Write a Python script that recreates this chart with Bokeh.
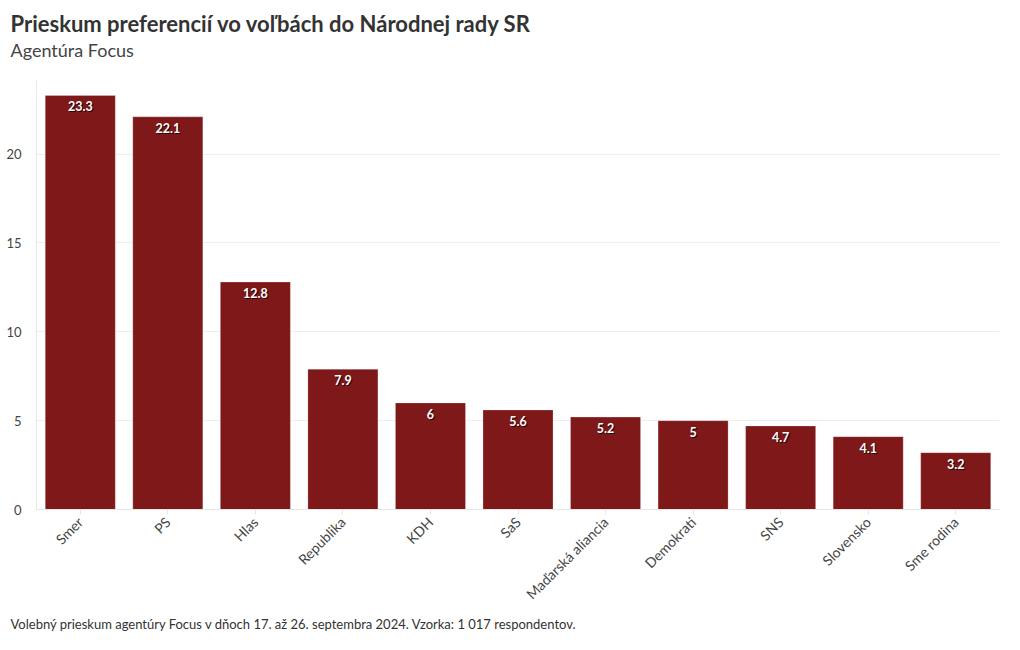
import math
from bokeh.plotting import figure
from bokeh.models import ColumnDataSource, Title, Range1d, FixedTicker
from bokeh.core.properties import value
from bokeh.embed import file_html
from bokeh.resources import INLINE

parties = ["Smer", "PS", "Hlas", "Republika", "KDH", "SaS", "Maďarská aliancia",
           "Demokrati", "SNS", "Slovensko", "Sme rodina"]
support = [23.3, 22.1, 12.8, 7.9, 6, 5.6, 5.2, 5, 4.7, 4.1, 3.2]
labels = ["23.3", "22.1", "12.8", "7.9", "6", "5.6", "5.2", "5", "4.7", "4.1", "3.2"]
y_ticks = [0, 5, 10, 15, 20]

title_text = "Prieskum preferencií vo voľbách do Národnej rady SR"
subtitle_text = "Agentúra Focus"
footer_text = "Volebný prieskum agentúry Focus v dňoch 17. až 26. septembra 2024. Vzorka: 1 017 respondentov."

FONT = "Lato"

src = ColumnDataSource(dict(x=parties, y=support, lab=labels))

p = figure(x_range=parties, y_range=Range1d(0, 24.2), width=1004, height=634,
           output_backend="svg", toolbar_location=None,
           min_border_left=36, min_border_right=5, min_border_top=10, min_border_bottom=125)
p.title = None
p.outline_line_color = None

def spacer(gap):
    return Title(text="\u00a0", text_font_size="1px", standoff=gap)

sub = Title(text=subtitle_text, text_font=FONT, text_font_size="18px",
            text_font_style="normal", text_color="#444444", offset=-26, standoff=0)
ttl = Title(text=title_text, text_font=FONT, text_font_size="22px",
            text_font_style="bold", text_color="#333333", offset=-26, standoff=0)
p.add_layout(spacer(16), "above")
p.add_layout(sub, "above")
p.add_layout(ttl, "above")
p.add_layout(spacer(4), "above")
foot = Title(text=footer_text, text_font=FONT, text_font_size="13px",
             text_font_style="normal", text_color="#333333", offset=-26, standoff=5)
p.add_layout(foot, "below")

p.vbar(x="x", top="y", width=0.8, source=src, fill_color="#7f1819",
       line_color="#ffffff", line_alpha=0.4, line_width=0.6)

p.text(x="x", y="y", text="lab", source=src, x_offset=1, y_offset=7,
       text_align="center", text_baseline="top", text_color="#2a0505",
       text_font=value(FONT), text_font_size="12.5px", text_font_style="bold")
p.text(x="x", y="y", text="lab", source=src, y_offset=6,
       text_align="center", text_baseline="top", text_color="#ffffff",
       text_font=value(FONT), text_font_size="12.5px", text_font_style="bold")

p.xgrid.grid_line_color = None
p.ygrid.grid_line_color = "#eeeeee"
p.ygrid.ticker = FixedTicker(ticks=y_ticks)

p.yaxis.ticker = FixedTicker(ticks=y_ticks)
p.yaxis.axis_line_color = "#e6e6e6"
p.yaxis.major_tick_line_color = None
p.yaxis.minor_tick_line_color = None
p.yaxis.major_label_text_font = FONT
p.yaxis.major_label_text_font_size = "13px"
p.yaxis.major_label_text_color = "#444444"
p.yaxis.major_label_standoff = 9

p.xaxis.axis_line_color = "#e6e6e6"
p.xaxis.major_tick_line_color = "#e6e6e6"
p.xaxis.major_tick_out = 5
p.xaxis.major_tick_in = 0
p.xaxis.major_label_orientation = math.pi / 4
p.xaxis.major_label_text_font = FONT
p.xaxis.major_label_text_font_size = "14px"
p.xaxis.major_label_text_color = "#444444"
p.xaxis.major_label_standoff = 5
p.x_range.range_padding = 0

open("out.html", "w").write(file_html(p, INLINE))
